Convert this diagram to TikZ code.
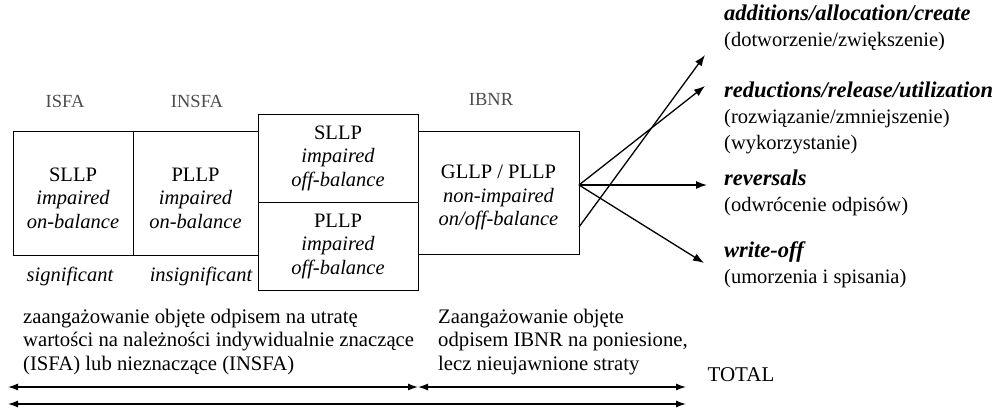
\documentclass[tikz,border=0pt]{standalone}
\usepackage{fontspec}
\setmainfont{Liberation Serif}
\usetikzlibrary{positioning}
\usetikzlibrary{arrows.meta}

% pushes the box text a little below the centre
\newcommand{\padtop}{\rule{0pt}{24pt}}
\newcommand{\outhead}[1]{{\fontsize{22.5}{26}\selectfont\bfseries\itshape #1}}

\begin{document}
\begin{tikzpicture}[x=1pt, y=-1pt,
    box/.style={draw, line width=1pt, inner sep=0pt, align=center, font=\fontsize{20.5}{23.5}\selectfont},
    head/.style={font=\fontsize{18.5}{22}\selectfont, text=black!70},
    note/.style={font=\fontsize{20.5}{23}\selectfont\itshape},
    txt/.style={font=\fontsize{20.7}{23.5}\selectfont, align=left, inner sep=0pt, anchor=north west},
    outcome/.style={font=\fontsize{20.5}{26}\selectfont, align=left, inner sep=0pt, anchor=north west},
    flow/.style={line width=1.3pt, -{Latex[length=11pt, width=8pt]}},
    span/.style={line width=1.3pt, {Latex[length=10pt, width=7pt]}-{Latex[length=10pt, width=7pt]}}]

    \useasboundingbox (0,0) rectangle (996,407);

    % boxes
    \node[box, minimum width=120pt, minimum height=124pt] (sllp) at (73,193) {\padtop SLLP\\\textit{impaired}\\\textit{on-balance}};
    \node[box, minimum width=125pt, minimum height=124pt] (pllp) at (195.5,193) {\padtop PLLP\\\textit{impaired}\\\textit{on-balance}};
    \node[box, minimum width=160pt, minimum height=88pt] (sllpoff) at (338,158) {SLLP\\\textit{impaired}\\\textit{off-balance}};
    \node[box, minimum width=160pt, minimum height=88pt] (pllpoff) at (338,246) {PLLP\\\textit{impaired}\\\textit{off-balance}};
    \node[box, minimum width=161pt, minimum height=123pt] (gllp) at (498.5,192.5) {\padtop GLLP / PLLP\\\textit{non-impaired}\\\textit{on/off-balance}};

    % headings and notes
    \node[head] (isfa) at (65,101) {ISFA};
    \node[head] (insfa) at (197,101) {INSFA};
    \node[head] (ibnr) at (491,99) {IBNR};
    \node[note] (sig) at (70,276) {significant};
    \node[note] (insig) at (201,276) {insignificant};

    % outcomes
    \node[outcome] (add) at (724,4.5) {\outhead{additions/allocation/create}\\(dotworzenie/zwiększenie)};
    \node[outcome] (red) at (724,81.5) {\outhead{reductions/release/utilization}\\(rozwiązanie/zmniejszenie)\\(wykorzystanie)};
    \node[outcome] (rev) at (724,170) {\outhead{reversals}\\(odwrócenie odpisów)};
    \node[outcome] (wo) at (724,241) {\outhead{write-off}\\(umorzenia i spisania)};

    \coordinate (fan) at (579,185);
    \coordinate (low) at (579,227);
    \coordinate (addtip) at (705,55);
    \coordinate (redtip) at (705,86);
    \coordinate (revtip) at (707,185);
    \coordinate (wotip) at (704,263);

    \draw[flow] (low) -- (addtip);
    \draw[flow] (fan) -- (redtip);
    \draw[flow] (fan) -- (revtip);
    \draw[flow] (fan) -- (wotip);

    % descriptions
    \node[txt] (isdesc) at (23,308.5) {zaangażowanie objęte odpisem na utratę\\wartości na należności indywidualnie znaczące\\(ISFA) lub nieznaczące (INSFA)};
    \node[txt] (ibdesc) at (438,308.5) {Zaangażowanie objęte\\odpisem IBNR na poniesione,\\lecz nieujawnione straty};
    \node[font=\fontsize{21}{24}\selectfont] (total) at (741,375) {TOTAL};

    % spans
    \coordinate (l1) at (8,387);
    \coordinate (m1) at (418,387);
    \coordinate (r1) at (686,387);
    \coordinate (l2) at (8,404);
    \coordinate (r2) at (686,404);
    \draw[span] (l1) -- (m1);
    \draw[span] (m1) -- (r1);
    \draw[span] (l2) -- (r2);

\end{tikzpicture}
\end{document}
